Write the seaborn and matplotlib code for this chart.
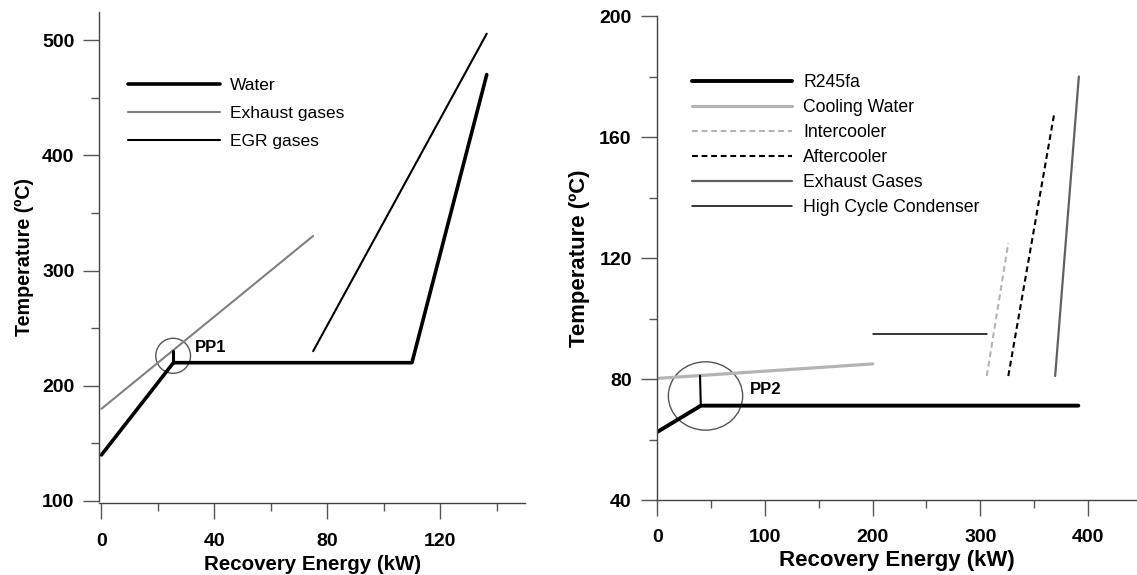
import matplotlib
matplotlib.use("Agg")
import matplotlib.pyplot as plt
from matplotlib.patches import Ellipse
import seaborn as sns

# Left panel: water / exhaust / EGR (kW, ºC)
water_x = [0, 25.5, 110, 136.5]
water_y = [140, 220, 220, 470]
pp1_x = [25.5, 25.5]
pp1_y = [220, 230]
exhaust_x = [0, 75]
exhaust_y = [180, 330]
egr_x = [75, 136.5]
egr_y = [230, 505.5]

# Right panel: R245fa low cycle
r245_x = [0, 40.5, 391]
r245_y = [62.5, 71.2, 71.2]
pp2_x = [39.7, 40.4]
pp2_y = [81.1, 71.4]
cooling_x = [0, 200]
cooling_y = [80.2, 85]
inter_x = [306, 326]
inter_y = [81, 125]
after_x = [326, 368.5]
after_y = [81, 167.5]
exh2_x = [369.5, 391.5]
exh2_y = [81, 180]
hcc_x = [200, 306]
hcc_y = [95, 95]

sns.set_style("ticks")
plt.rcParams['font.family'] = ['Liberation Sans', 'DejaVu Sans']
plt.rcParams['text.color'] = 'black'
plt.rcParams['axes.labelcolor'] = 'black'
plt.rcParams['xtick.labelcolor'] = 'black'
plt.rcParams['ytick.labelcolor'] = 'black'

fig = plt.figure(figsize=(11.37, 5.75), dpi=100)
ax1 = fig.add_axes([0.0875, 0.1247, 0.3741, 0.855])
ax2 = fig.add_axes([0.5776, 0.1304, 0.4224, 0.8417])

# ---- left panel ----
sns.lineplot(x=water_x, y=water_y, ax=ax1, color='black', lw=2.6, sort=False,
             estimator=None, label='Water')
sns.lineplot(x=exhaust_x, y=exhaust_y, ax=ax1, color='#808080', lw=1.5, sort=False,
             estimator=None, label='Exhaust gases')
sns.lineplot(x=egr_x, y=egr_y, ax=ax1, color='black', lw=1.5, sort=False,
             estimator=None, label='EGR gases')
sns.lineplot(x=pp1_x, y=pp1_y, ax=ax1, color='black', lw=2.2, sort=False, estimator=None)
ax1.add_patch(Ellipse((25.4, 226), 12.3, 30.4, fill=False, ec='#555555', lw=1))
ax1.text(33.1, 233.4, 'PP1', fontsize=12, fontweight='bold', va='center', ha='left')

ax1.set_xlim(-0.7, 150)
ax1.set_ylim(98, 524.6)
ax1.set_xticks([0, 40, 80, 120])
ax1.set_xticks([20, 60, 100, 140], minor=True)
ax1.set_yticks([100, 200, 300, 400, 500])
ax1.set_yticks([150, 250, 350, 450], minor=True)
ax1.spines['left'].set_bounds(100, 524.6)
ax1.set_xlabel('Recovery Energy (kW)', fontsize=14.8, fontweight='bold', labelpad=3.6)
ax1.set_ylabel('Temperature (ºC)', fontsize=14.2, fontweight='bold', labelpad=5.5)
leg1 = ax1.legend(loc='upper left', bbox_to_anchor=(0.0677, 0.866), frameon=False,
                  fontsize=12.5, handlelength=5.31, handletextpad=0.57, labelspacing=0.75,
                  borderpad=0, borderaxespad=0)

# ---- right panel ----
sns.lineplot(x=r245_x, y=r245_y, ax=ax2, color='black', lw=2.8, sort=False,
             estimator=None, label='R245fa')
sns.lineplot(x=cooling_x, y=cooling_y, ax=ax2, color='#b4b4b4', lw=2.3, sort=False,
             estimator=None, label='Cooling Water')
sns.lineplot(x=inter_x, y=inter_y, ax=ax2, color='#b4b4b4', lw=1.5, sort=False,
             estimator=None, label='Intercooler', linestyle=(0, (2.8, 1.8)))
sns.lineplot(x=after_x, y=after_y, ax=ax2, color='black', lw=1.5, sort=False,
             estimator=None, label='Aftercooler', linestyle=(0, (2.8, 1.8)))
sns.lineplot(x=exh2_x, y=exh2_y, ax=ax2, color='#606060', lw=1.6, sort=False,
             estimator=None, label='Exhaust Gases')
sns.lineplot(x=hcc_x, y=hcc_y, ax=ax2, color='black', lw=1.1, sort=False,
             estimator=None, label='High Cycle Condenser')
sns.lineplot(x=pp2_x, y=pp2_y, ax=ax2, color='black', lw=1.5, sort=False, estimator=None)
ax2.add_patch(Ellipse((44.8, 74.4), 69, 22.6, fill=False, ec='#555555', lw=1))
ax2.text(86.2, 76.4, 'PP2', fontsize=12, fontweight='bold', va='center', ha='left')

ax2.set_xlim(-0.5, 445.5)
ax2.set_ylim(40, 200)
ax2.set_xticks([0, 100, 200, 300, 400])
ax2.set_xticks([50, 150, 250, 350], minor=True)
ax2.set_yticks([40, 80, 120, 160, 200])
ax2.set_yticks([60, 100, 140, 180], minor=True)
ax2.set_xlabel('Recovery Energy (kW)', fontsize=16, fontweight='bold', labelpad=2.4)
ax2.set_ylabel('Temperature (ºC)', fontsize=15.9, fontweight='bold', labelpad=7)
leg2 = ax2.legend(loc='upper left', bbox_to_anchor=(0.0729, 0.880), frameon=False,
                  fontsize=12.7, handlelength=5.68, handletextpad=0.64, labelspacing=0.45,
                  borderpad=0, borderaxespad=0)

for ax in (ax1, ax2):
    ax.spines['top'].set_visible(False)
    ax.spines['right'].set_visible(False)
    for s in ('left', 'bottom'):
        ax.spines[s].set_color('#444444')
        ax.spines[s].set_linewidth(1)
    ax.tick_params(which='major', length=11.5, width=1, color='#555555', labelsize=14)
    ax.tick_params(which='minor', length=5.5, width=1, color='#555555')
    ax.tick_params(axis='y', which='major', pad=6.5)
    for lbl in ax.get_xticklabels() + ax.get_yticklabels():
        lbl.set_fontweight('bold')
ax1.tick_params(axis='x', which='major', pad=10)
ax2.tick_params(axis='x', which='major', pad=9.7)

fig.savefig('out.png', dpi=100)
plt.close(fig)
